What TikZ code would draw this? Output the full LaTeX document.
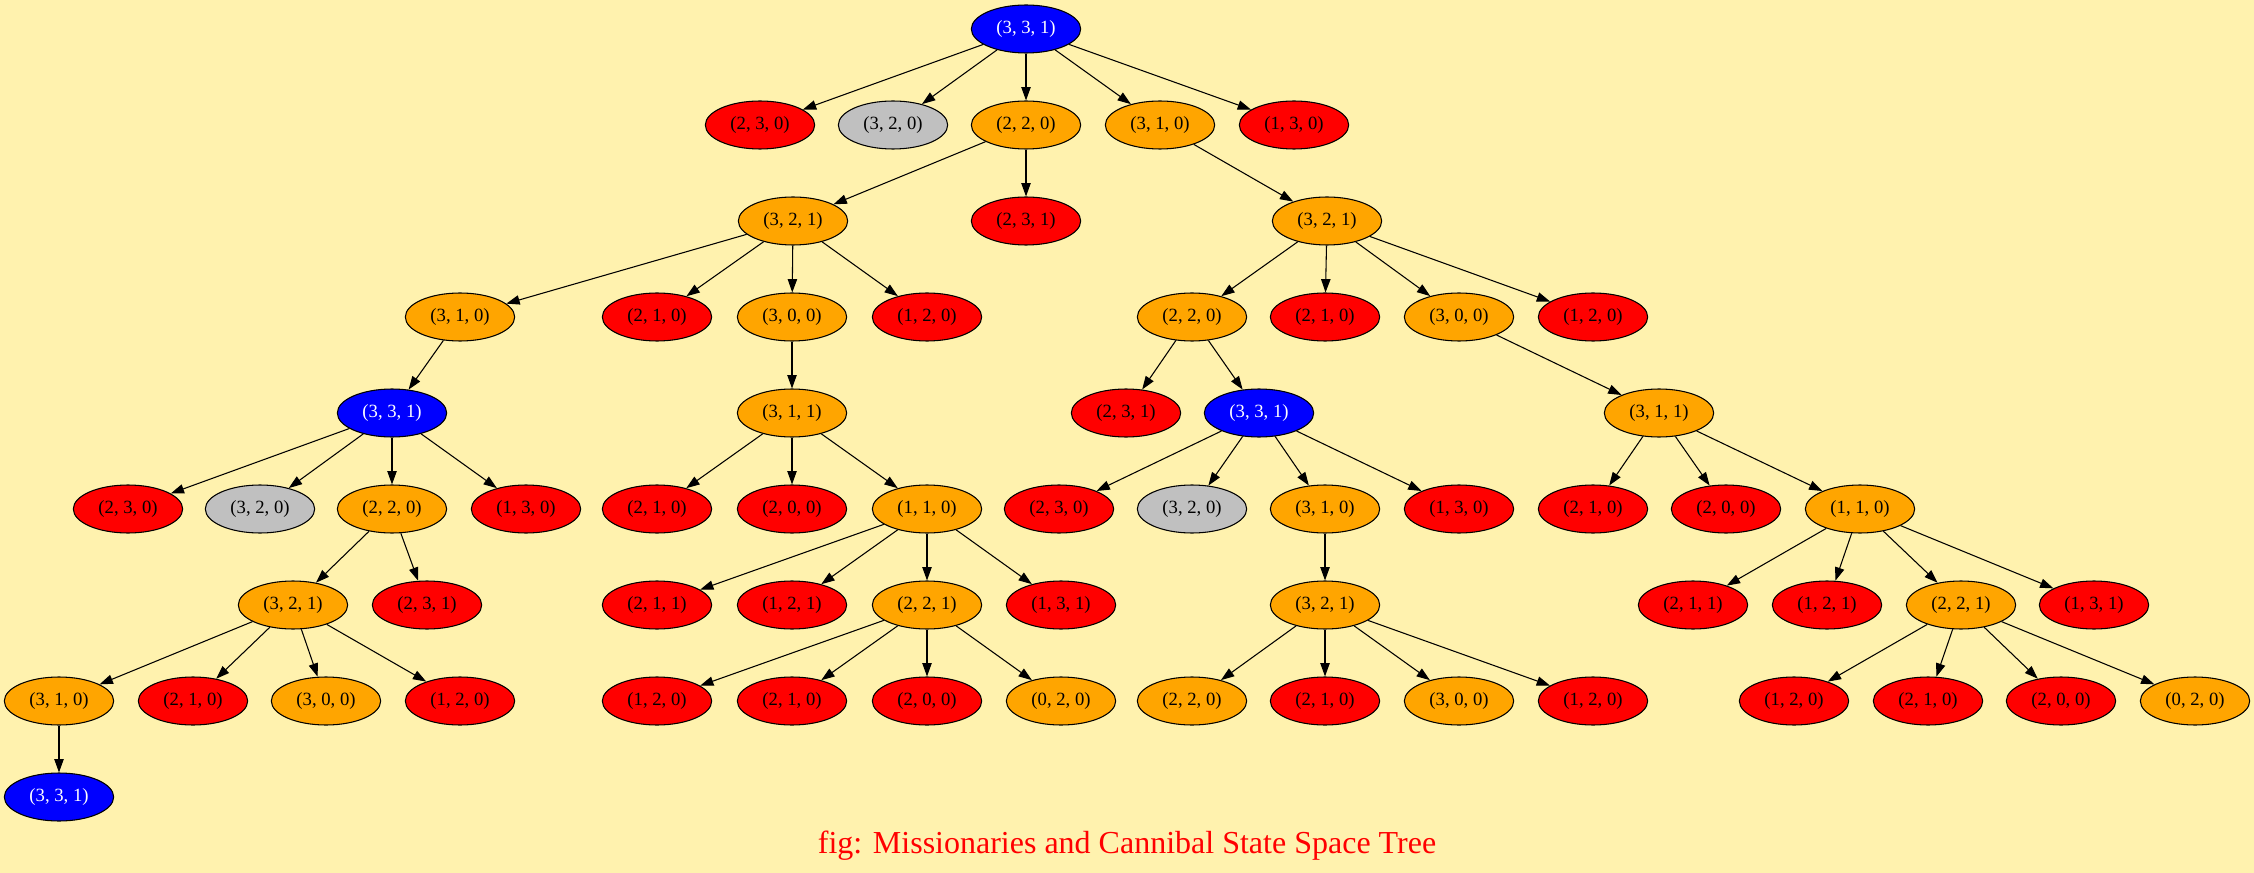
\documentclass[tikz,border=0pt]{standalone}
\usepackage{fontspec}
\setmainfont{Liberation Serif}
\usetikzlibrary{shapes.geometric,arrows.meta}
\definecolor{bgc}{HTML}{FFF2AE}
\definecolor{orng}{HTML}{FFA500}
\definecolor{gry}{HTML}{C0C0C0}
\tikzset{
  st/.style={ellipse,draw=black,line width=0.8pt,minimum width=82pt,minimum height=36pt,inner sep=0pt,font=\fontsize{14}{16}\selectfont},
  bl/.style={st,fill=blue,text=white},
  rd/.style={st,fill=red},
  or/.style={st,fill=orng},
  gr/.style={st,fill=gry},
  ed/.style={draw=black,line width=0.8pt,-{Triangle[length=10pt,width=7pt]}},
}
\begin{document}
\begin{tikzpicture}[x=0.75pt,y=-0.75pt]
\fill[bgc] (0,0) rectangle (2254,873);
\useasboundingbox (0,0) rectangle (2254,873);
% row 0
\node[bl] (r0) at (1026,29) {(3, 3, 1)};
% row 1
\node[rd] (r1a) at (760,125) {(2, 3, 0)};
\node[gr] (r1b) at (893,125) {(3, 2, 0)};
\node[or] (r1c) at (1026,125) {(2, 2, 0)};
\node[or] (r1d) at (1160,125) {(3, 1, 0)};
\node[rd] (r1e) at (1294,125) {(1, 3, 0)};
% row 2
\node[or] (r2a) at (793,221) {(3, 2, 1)};
\node[rd] (r2b) at (1026,221) {(2, 3, 1)};
\node[or] (r2c) at (1327,221) {(3, 2, 1)};
% row 3
\node[or] (r3a) at (460,317) {(3, 1, 0)};
\node[rd] (r3b) at (657,317) {(2, 1, 0)};
\node[or] (r3c) at (792,317) {(3, 0, 0)};
\node[rd] (r3d) at (927,317) {(1, 2, 0)};
\node[or] (r3e) at (1192,317) {(2, 2, 0)};
\node[rd] (r3f) at (1325,317) {(2, 1, 0)};
\node[or] (r3g) at (1459,317) {(3, 0, 0)};
\node[rd] (r3h) at (1593,317) {(1, 2, 0)};
% row 4
\node[bl] (r4a) at (392,413) {(3, 3, 1)};
\node[or] (r4b) at (792,413) {(3, 1, 1)};
\node[rd] (r4c) at (1126,413) {(2, 3, 1)};
\node[bl] (r4d) at (1259,413) {(3, 3, 1)};
\node[or] (r4e) at (1659,413) {(3, 1, 1)};
% row 5
\node[rd] (r5a) at (128,509) {(2, 3, 0)};
\node[gr] (r5b) at (260,509) {(3, 2, 0)};
\node[or] (r5c) at (392,509) {(2, 2, 0)};
\node[rd] (r5d) at (526,509) {(1, 3, 0)};
\node[rd] (r5e) at (657,509) {(2, 1, 0)};
\node[rd] (r5f) at (792,509) {(2, 0, 0)};
\node[or] (r5g) at (927,509) {(1, 1, 0)};
\node[rd] (r5h) at (1059,509) {(2, 3, 0)};
\node[gr] (r5i) at (1192,509) {(3, 2, 0)};
\node[or] (r5j) at (1325,509) {(3, 1, 0)};
\node[rd] (r5k) at (1459,509) {(1, 3, 0)};
\node[rd] (r5l) at (1593,509) {(2, 1, 0)};
\node[rd] (r5m) at (1726,509) {(2, 0, 0)};
\node[or] (r5n) at (1860,509) {(1, 1, 0)};
% row 6
\node[or] (r6a) at (293,605) {(3, 2, 1)};
\node[rd] (r6b) at (427,605) {(2, 3, 1)};
\node[rd] (r6c) at (657,605) {(2, 1, 1)};
\node[rd] (r6d) at (792,605) {(1, 2, 1)};
\node[or] (r6e) at (927,605) {(2, 2, 1)};
\node[rd] (r6f) at (1061,605) {(1, 3, 1)};
\node[or] (r6g) at (1325,605) {(3, 2, 1)};
\node[rd] (r6h) at (1693,605) {(2, 1, 1)};
\node[rd] (r6i) at (1827,605) {(1, 2, 1)};
\node[or] (r6j) at (1961,605) {(2, 2, 1)};
\node[rd] (r6k) at (2094,605) {(1, 3, 1)};
% row 7
\node[or] (r7a) at (59,701) {(3, 1, 0)};
\node[rd] (r7b) at (193,701) {(2, 1, 0)};
\node[or] (r7c) at (326,701) {(3, 0, 0)};
\node[rd] (r7d) at (460,701) {(1, 2, 0)};
\node[rd] (r7e) at (657,701) {(1, 2, 0)};
\node[rd] (r7f) at (792,701) {(2, 1, 0)};
\node[rd] (r7g) at (927,701) {(2, 0, 0)};
\node[or] (r7h) at (1061,701) {(0, 2, 0)};
\node[or] (r7i) at (1192,701) {(2, 2, 0)};
\node[rd] (r7j) at (1325,701) {(2, 1, 0)};
\node[or] (r7k) at (1459,701) {(3, 0, 0)};
\node[rd] (r7l) at (1593,701) {(1, 2, 0)};
\node[rd] (r7m) at (1794,701) {(1, 2, 0)};
\node[rd] (r7n) at (1928,701) {(2, 1, 0)};
\node[rd] (r7o) at (2061,701) {(2, 0, 0)};
\node[or] (r7p) at (2195,701) {(0, 2, 0)};
% row 8
\node[bl] (r8a) at (59,797) {(3, 3, 1)};
% caption
\node[text=red,font=\fontsize{24}{28}\selectfont,inner sep=0pt] (cap) at (1127,846) {fig: Missionaries and Cannibal State Space Tree};
% edges
\foreach \a/\b in {r0/r1a,r0/r1b,r0/r1c,r0/r1d,r0/r1e,
  r1c/r2a,r1c/r2b,r1d/r2c,
  r2a/r3a,r2a/r3b,r2a/r3c,r2a/r3d,
  r2c/r3e,r2c/r3f,r2c/r3g,r2c/r3h,
  r3a/r4a,r3c/r4b,r3e/r4c,r3e/r4d,r3g/r4e,
  r4a/r5a,r4a/r5b,r4a/r5c,r4a/r5d,
  r4b/r5e,r4b/r5f,r4b/r5g,
  r4d/r5h,r4d/r5i,r4d/r5j,r4d/r5k,
  r4e/r5l,r4e/r5m,r4e/r5n,
  r5c/r6a,r5c/r6b,
  r5g/r6c,r5g/r6d,r5g/r6e,r5g/r6f,
  r5j/r6g,
  r5n/r6h,r5n/r6i,r5n/r6j,r5n/r6k,
  r6a/r7a,r6a/r7b,r6a/r7c,r6a/r7d,
  r6e/r7e,r6e/r7f,r6e/r7g,r6e/r7h,
  r6g/r7i,r6g/r7j,r6g/r7k,r6g/r7l,
  r6j/r7m,r6j/r7n,r6j/r7o,r6j/r7p,
  r7a/r8a}
  \draw[ed] (\a) -- (\b);
\end{tikzpicture}
\end{document}
